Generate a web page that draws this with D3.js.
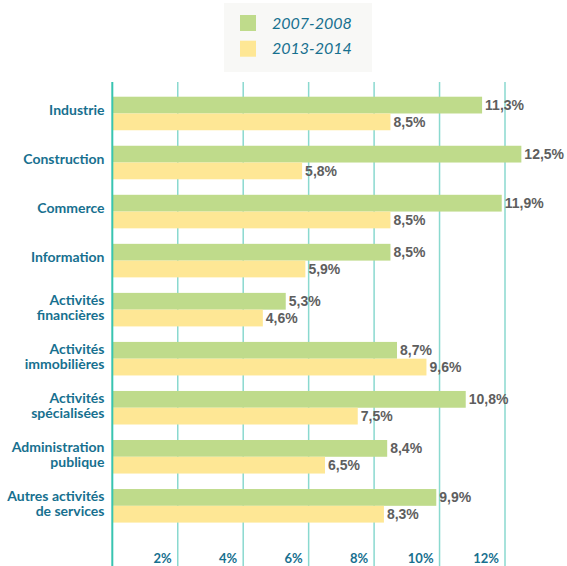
<!DOCTYPE html>
<html>
<head>
<meta charset="utf-8">
<script src="https://cdn.jsdelivr.net/npm/d3@7"></script>
<style>
  html, body { margin: 0; padding: 0; background: #ffffff; }
  svg { display: block; }
</style>
</head>
<body>
<svg id="chart" width="567" height="566"></svg>
<script>
// Sectors (label lines) and the two periods compared
const categories = [
  ["Industrie"],
  ["Construction"],
  ["Commerce"],
  ["Information"],
  ["Activités", "financières"],
  ["Activités", "immobilières"],
  ["Activités", "spécialisées"],
  ["Administration", "publique"],
  ["Autres activités", "de services"]
];
const series = ["2007-2008", "2013-2014"];
const values2007 = [11.3, 12.5, 11.9, 8.5, 5.3, 8.7, 10.8, 8.4, 9.9];
const values2013 = [8.5, 5.8, 8.5, 5.9, 4.6, 9.6, 7.5, 6.5, 8.3];
const tickValues = [2, 4, 6, 8, 10, 12];

const colors = ["#bfdb8b", "#fee795"];
const textBlue = "#17708f";
const fmt = v => d3.format(".1f")(v).replace(".", ",") + "%";

const svg = d3.select("#chart");
const W = 567, H = 566;

const x = d3.scaleLinear().domain([0, 12]).range([112.3, 505]);
const keys = categories.map(c => c.join(" "));
const y = d3.scaleBand().domain(keys).range([82, 537.3]).paddingInner(0.316).paddingOuter(0.3);
const ySub = d3.scaleBand().domain(series).range([0, y.bandwidth()]);

// Gridlines
svg.append("g").selectAll("line").data(tickValues).join("line")
  .attr("x1", d => x(d)).attr("x2", d => x(d))
  .attr("y1", 82).attr("y2", H)
  .attr("stroke", "#8ad9cf").attr("stroke-width", 1.5);

// Tick labels at the bottom, right-aligned against each gridline
svg.append("g").selectAll("text").data(tickValues).join("text")
  .attr("x", d => x(d) - 6).attr("y", 563)
  .attr("text-anchor", "end")
  .attr("font-family", "Lato, sans-serif").attr("font-weight", 700)
  .attr("font-size", 13).attr("fill", textBlue)
  .text(d => d + "%");

// Bars
const rows = categories.map((c, i) => ({ key: keys[i], lines: c, vals: [values2007[i], values2013[i]] }));
const groups = svg.append("g").selectAll("g").data(rows).join("g")
  .attr("transform", d => `translate(0,${y(d.key)})`);

groups.selectAll("rect").data(d => d.vals.map((v, j) => ({ v, s: series[j], j }))).join("rect")
  .attr("x", x(0)).attr("y", d => ySub(d.s))
  .attr("width", d => x(d.v) - x(0)).attr("height", ySub.bandwidth())
  .attr("fill", d => colors[d.j]);

// Value labels
groups.selectAll("text.val").data(d => d.vals.map((v, j) => ({ v, s: series[j] }))).join("text")
  .attr("class", "val")
  .attr("x", d => x(d.v) + 3)
  .attr("y", d => ySub(d.s) + ySub.bandwidth() / 2 + 5)
  .attr("font-family", "'Liberation Sans', Arial, sans-serif").attr("font-weight", 700)
  .attr("font-size", 14).attr("fill", "#5e5e5e")
  .text(d => fmt(d.v));

// Category labels
groups.each(function (d) {
  const g = d3.select(this);
  const cy = y.bandwidth() / 2;
  const t = g.append("text")
    .attr("text-anchor", "end")
    .attr("font-family", "Lato, sans-serif").attr("font-weight", 700)
    .attr("font-size", 14).attr("fill", textBlue);
  if (d.lines.length === 1) {
    t.append("tspan").attr("x", 104.5).attr("y", cy + 1.5).text(d.lines[0]);
  } else {
    t.append("tspan").attr("x", 104.5).attr("y", cy - 5).text(d.lines[0]);
    t.append("tspan").attr("x", 104.5).attr("y", cy + 10.5).text(d.lines[1]);
  }
});

// Axis baseline
svg.append("line")
  .attr("x1", x(0)).attr("x2", x(0)).attr("y1", 82).attr("y2", H)
  .attr("stroke", "#38c4b0").attr("stroke-width", 2);

// Legend
const legend = svg.append("g");
legend.append("rect").attr("x", 224).attr("y", 3).attr("width", 148).attr("height", 69).attr("fill", "#f8f8f6");
series.forEach((s, i) => {
  legend.append("rect").attr("x", 240).attr("y", 15 + i * 25.7).attr("width", 16).attr("height", 16).attr("fill", colors[i]);
  legend.append("text").attr("x", 272).attr("y", 28.5 + i * 25.7)
    .attr("font-family", "Lato, sans-serif").attr("font-style", "italic")
    .attr("font-size", 16).attr("fill", textBlue).text(s);
});
</script>
</body>
</html>
